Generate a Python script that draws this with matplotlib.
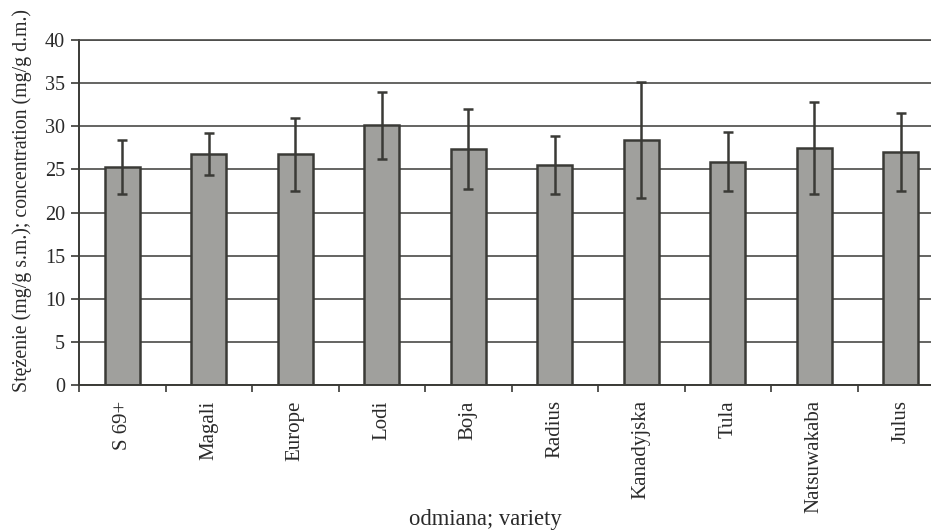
import matplotlib
matplotlib.use("Agg")
import matplotlib.pyplot as plt
import numpy as np

varieties = ["S 69+", "Magali", "Europe", "Lodi", "Boja", "Radius",
             "Kanadyjska", "Tula", "Natsuwakaba", "Julus"]
concentration = [25.3, 26.75, 26.75, 30.1, 27.4, 25.5, 28.4, 25.9, 27.5, 27.0]
std_dev = [3.1, 2.45, 4.25, 3.9, 4.65, 3.35, 6.7, 3.4, 5.35, 4.55]
y_ticks = [0, 5, 10, 15, 20, 25, 30, 35, 40]

plt.rcParams["font.family"] = ["Liberation Serif", "DejaVu Serif"]

W, H = 931, 531
fig = plt.figure(figsize=(W / 100, H / 100), dpi=100)
ax = fig.add_axes([79 / W, 146 / H, 865 / W, 345 / H])

dark = "#3a3a36"
text_col = "#2a2a2a"
x = np.arange(len(varieties))
ax.set_axisbelow(True)
ax.yaxis.grid(True, color="#4a4a48", linewidth=1.2)
ax.bar(x, concentration, width=0.405, color="#a0a09d", edgecolor=dark,
       linewidth=1.8, zorder=2)
ax.errorbar(x, concentration, yerr=std_dev, fmt="none", ecolor=dark,
            elinewidth=1.8, capsize=3.7, capthick=1.8, zorder=3)

ax.set_xlim(-0.5, len(varieties) - 0.5)
ax.set_ylim(0, 40)
ax.set_yticks(y_ticks)
ax.set_yticklabels([str(v) for v in y_ticks], fontsize=14.5, color=text_col)

# category labels centred, tick marks between categories
ax.set_xticks(x)
ax.set_xticklabels(varieties, rotation=90, fontsize=15, color=text_col,
                   va="top")
ax.tick_params(axis="x", length=0, pad=11)
ax.set_xticks(np.arange(len(varieties) + 1) - 0.5, minor=True)
ax.tick_params(axis="x", which="minor", length=5, width=1.2, color=dark,
               direction="out")
ax.tick_params(axis="y", length=6, width=1.2, color=dark, pad=4)

ax.spines["right"].set_visible(False)
ax.spines["top"].set_color("#4a4a48")
ax.spines["top"].set_linewidth(1.2)
for side in ("left", "bottom"):
    ax.spines[side].set_color(dark)
    ax.spines[side].set_linewidth(1.4)

fig.text(22 / W, 1 - 201 / H,
         "Stężenie (mg/g s.m.); concentration (mg/g d.m.)",
         rotation=90, ha="center", va="center", fontsize=14.3, color=text_col)
fig.text(485 / W, 1 - 520 / H, "odmiana; variety", ha="center",
         va="center", fontsize=16.3, color=text_col)

fig.savefig("out.png", dpi=100)
